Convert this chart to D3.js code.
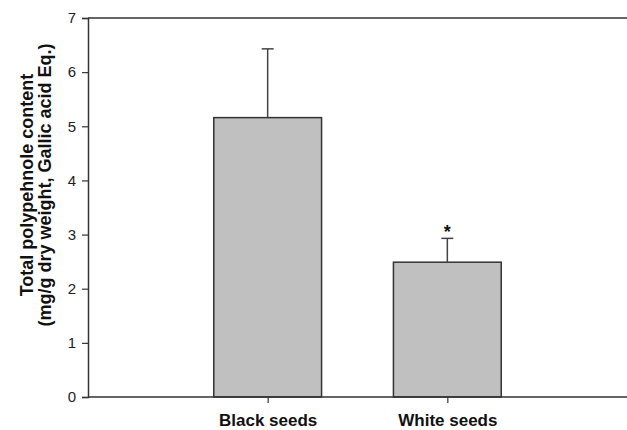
<!DOCTYPE html>
<html>
<head>
<meta charset="utf-8">
<script src="https://cdn.jsdelivr.net/npm/d3@7"></script>
<style>
  body { margin: 0; background: #fff; }
  svg { display: block; font-family: Arial, "Liberation Sans", sans-serif; }
</style>
</head>
<body>
<div id="graph"></div>
<script>
var categories = ["Black seeds", "White seeds"];
var means = [5.16, 2.49];
var errors = [1.27, 0.44];
var marks = ["", "*"];
var yTicks = [0, 1, 2, 3, 4, 5, 6, 7];
var yTitle = ["Total polypehnole content", "(mg/g dry weight, Gallic acid Eq.)"];

var width = 627;
var height = 430;
var margins = {top: 18, right: 0, bottom: 33, left: 88};
var ink = "#333";

var svg = d3.select('#graph')
  .append('svg')
  .attr('width', width)
  .attr('height', height);

/* categories sit at 1 and 2 on a 0..3 axis */
var x = d3.scalePoint()
  .domain(categories)
  .range([margins.left, width - margins.right])
  .padding(1);

var y = d3.scaleLinear()
  .domain([0, 7])
  .range([height - margins.bottom, margins.top]);

var barW = x.step() * 0.6;

// top frame line
svg.append('line')
  .attr('x1', margins.left).attr('x2', width)
  .attr('y1', y(7)).attr('y2', y(7))
  .attr('stroke', ink).attr('stroke-width', 1.5);

// bars
svg.selectAll('rect.bar')
  .data(means)
  .enter().append('rect')
  .attr('class', 'bar')
  .attr('x', function(d, i) { return x(categories[i]) - barW / 2; })
  .attr('y', function(d) { return y(d); })
  .attr('width', barW)
  .attr('height', function(d) { return y(0) - y(d); })
  .attr('fill', '#c0c0c0')
  .attr('stroke', ink)
  .attr('stroke-width', 1.5);

// error bars (upper only)
var err = svg.selectAll('g.err')
  .data(means)
  .enter().append('g')
  .attr('class', 'err')
  .attr('stroke', '#444')
  .attr('stroke-width', 1.5);
err.append('line')
  .attr('x1', function(d, i) { return x(categories[i]); })
  .attr('x2', function(d, i) { return x(categories[i]); })
  .attr('y1', function(d) { return y(d); })
  .attr('y2', function(d, i) { return y(d + errors[i]); });
err.append('line')
  .attr('x1', function(d, i) { return x(categories[i]) - 6; })
  .attr('x2', function(d, i) { return x(categories[i]) + 6; })
  .attr('y1', function(d, i) { return y(d + errors[i]); })
  .attr('y2', function(d, i) { return y(d + errors[i]); });

// significance marks
svg.selectAll('text.mark')
  .data(means)
  .enter().append('text')
  .attr('class', 'mark')
  .attr('x', function(d, i) { return x(categories[i]); })
  .attr('y', function(d, i) { return y(d + errors[i]); })
  .attr('text-anchor', 'middle')
  .style('font-size', '18px')
  .style('font-weight', 'bold')
  .attr('fill', '#111')
  .text(function(d, i) { return marks[i]; });

// y axis
var yAxis = svg.append('g')
  .attr('transform', 'translate(' + margins.left + ',0)')
  .call(d3.axisLeft(y).tickValues(yTicks).tickSize(6).tickPadding(6).tickFormat(d3.format('d')));
yAxis.select('.domain').attr('stroke', ink).attr('stroke-width', 1.5);
yAxis.selectAll('.tick line').attr('stroke', ink).attr('stroke-width', 1.2);
yAxis.selectAll('.tick text')
  .style('font-size', '15px')
  .style('font-family', 'Arial, "Liberation Sans", sans-serif')
  .attr('fill', '#222');

// x axis
var xAxis = svg.append('g')
  .attr('transform', 'translate(0,' + y(0) + ')')
  .call(d3.axisBottom(x).tickSize(6));
xAxis.select('.domain').attr('stroke', ink).attr('stroke-width', 1.5)
  .attr('d', 'M' + margins.left + ',0H' + width);
xAxis.selectAll('.tick line').attr('stroke', ink).attr('stroke-width', 1.2);
xAxis.selectAll('.tick text')
  .attr('y', 29)
  .attr('dy', 0)
  .style('font-size', '17px')
  .style('font-weight', 'bold')
  .style('font-family', 'Arial, "Liberation Sans", sans-serif')
  .attr('fill', '#111');

// y title, two lines
svg.selectAll('text.ytitle')
  .data(yTitle)
  .enter().append('text')
  .attr('class', 'ytitle')
  .attr('transform', function(d, i) { return 'translate(' + (33 + i * 18) + ',185) rotate(-90)'; })
  .attr('text-anchor', 'middle')
  .style('font-size', '18px')
  .style('font-weight', 'bold')
  .attr('fill', '#111')
  .text(function(d) { return d; });
</script>
</body>
</html>
